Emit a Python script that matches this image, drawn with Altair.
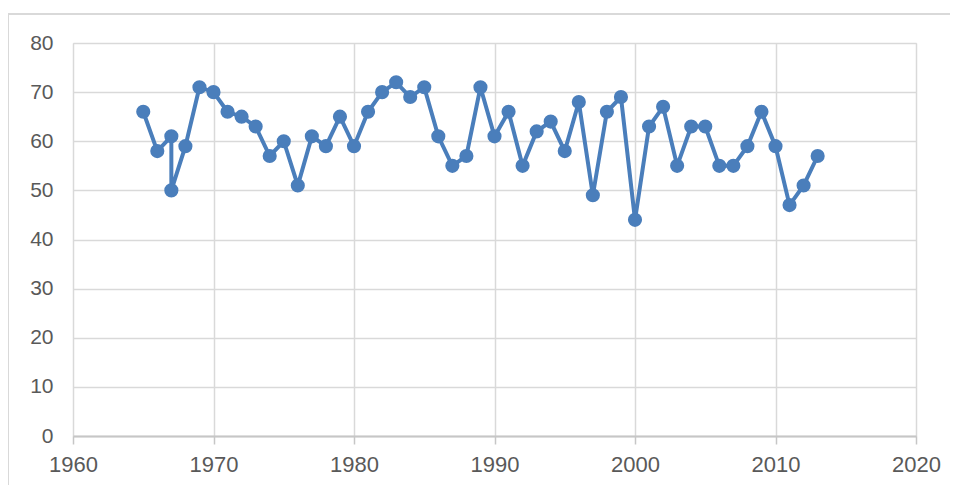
import altair as alt
import pandas as pd

years = [1965, 1966, 1967, 1967, 1968, 1969, 1970, 1971, 1972, 1973, 1974, 1975,
         1976, 1977, 1978, 1979, 1980, 1981, 1982, 1983, 1984, 1985, 1986, 1987,
         1988, 1989, 1990, 1991, 1992, 1993, 1994, 1995, 1996, 1997, 1998, 1999,
         2000, 2001, 2002, 2003, 2004, 2005, 2006, 2007, 2008, 2009, 2010, 2011,
         2012, 2013]
values = [66, 58, 61, 50, 59, 71, 70, 66, 65, 63, 57, 60,
          51, 61, 59, 65, 59, 66, 70, 72, 69, 71, 61, 55,
          57, 71, 61, 66, 55, 62, 64, 58, 68, 49, 66, 69,
          44, 63, 67, 55, 63, 63, 55, 55, 59, 66, 59, 47,
          51, 57]
x_ticks = [1960, 1970, 1980, 1990, 2000, 2010, 2020]
y_ticks = [0, 10, 20, 30, 40, 50, 60, 70, 80]

df = pd.DataFrame({"year": years, "value": values, "idx": list(range(len(years)))})

BLUE = "#4a7ebb"
GRID = "#d9d9d9"
LABEL = "#595959"
FONT = "Liberation Sans"

x = alt.X("year:Q",
          scale=alt.Scale(domain=[1960, 2020], nice=False, zero=False),
          axis=alt.Axis(values=x_ticks, format="d", title=None, grid=True,
                        gridColor=GRID, gridWidth=1.5,
                        domainColor="#c6c6c6", domainWidth=2,
                        tickColor="#c6c6c6", tickWidth=1.5, tickSize=8,
                        labelFont=FONT, labelFontSize=22, labelColor=LABEL,
                        labelPadding=10, labelFlush=False))
y = alt.Y("value:Q",
          scale=alt.Scale(domain=[0, 80], nice=False),
          axis=alt.Axis(values=y_ticks, title=None, grid=True,
                        gridColor=GRID, gridWidth=1.5,
                        domain=False, ticks=False,
                        labelFont=FONT, labelFontSize=21, labelColor=LABEL,
                        labelPadding=20))

base = alt.Chart(df)
line = base.mark_line(color=BLUE, strokeWidth=4).encode(x=x, y=y, order="idx:Q")
pts = base.mark_circle(color=BLUE, size=200, opacity=1).encode(x=x, y=y)

frame_top = alt.Chart(df).mark_rule(color=GRID, strokeWidth=2).encode(
    x=alt.value(-65), x2=alt.value(900), y=alt.value(-29))
frame_left = alt.Chart(df).mark_rule(color=GRID, strokeWidth=2).encode(
    x=alt.value(-65), y=alt.value(-29), y2=alt.value(460))

chart = alt.layer(frame_top, frame_left, line, pts).properties(
    width=843, height=393,
    autosize=alt.AutoSizeParams(type="none"),
    padding={"left": 65, "top": 35, "right": 34, "bottom": 49},
).configure_view(stroke=None).configure(background="white")

chart.save("out.html", embed_options={"renderer": "svg", "actions": False})
